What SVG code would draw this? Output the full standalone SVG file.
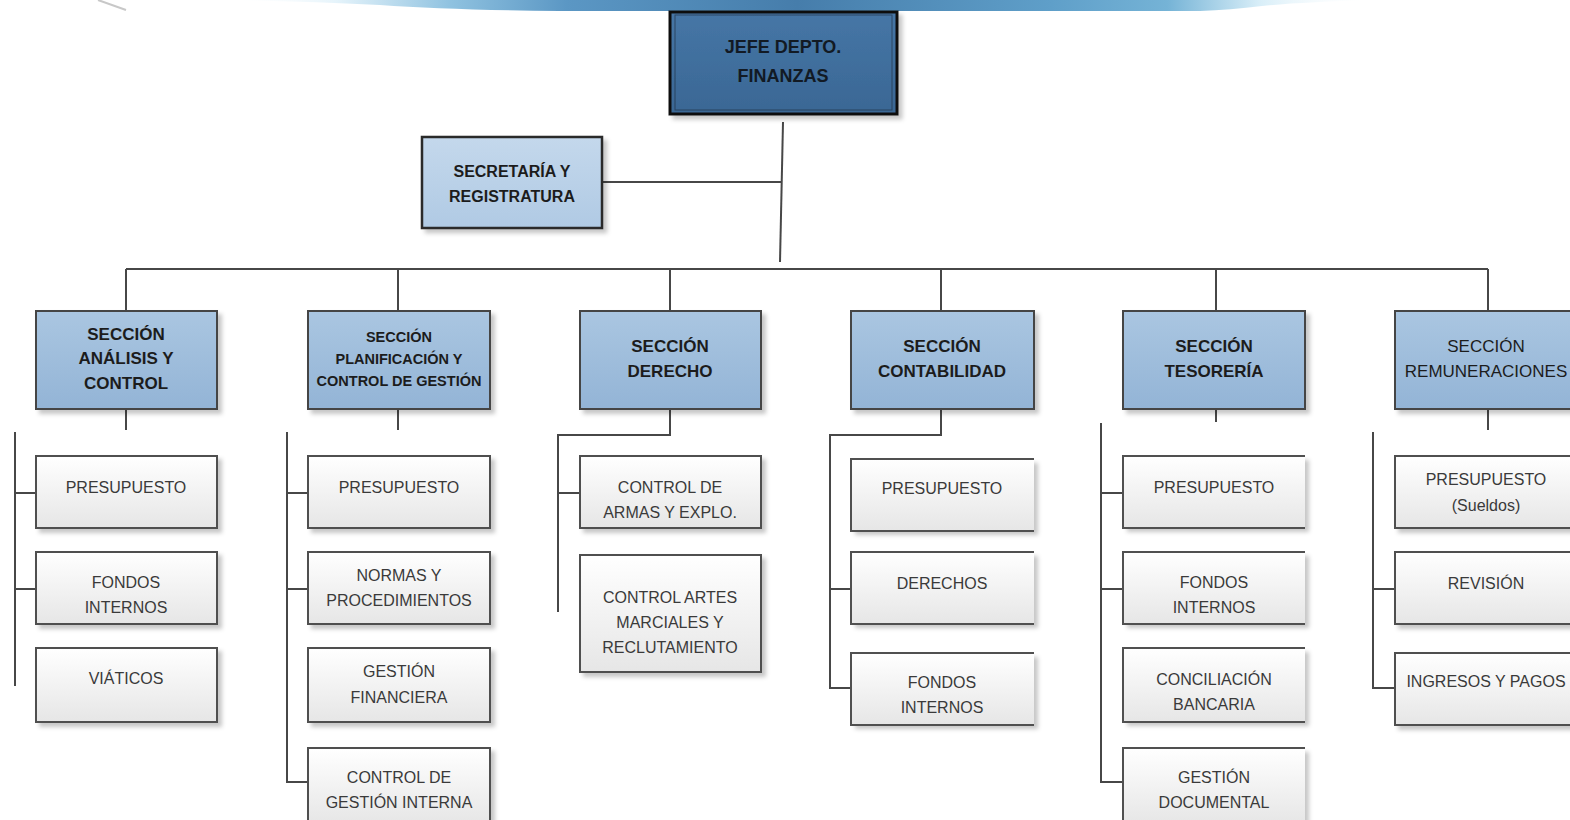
<svg xmlns="http://www.w3.org/2000/svg" width="1570" height="820" viewBox="0 0 1570 820">
<defs>
<linearGradient id="gBanner" gradientUnits="userSpaceOnUse" x1="220" y1="0" x2="1375" y2="0">
<stop offset="0" stop-color="#ffffff" stop-opacity="0"/>
<stop offset="0.1" stop-color="#e6f4fb"/>
<stop offset="0.2" stop-color="#8fc2e0"/>
<stop offset="0.3" stop-color="#5b97c4"/>
<stop offset="0.5" stop-color="#467dab"/>
<stop offset="0.72" stop-color="#5f9fc9"/>
<stop offset="0.82" stop-color="#75b3d6"/>
<stop offset="0.9" stop-color="#d8eef8"/>
<stop offset="1" stop-color="#ffffff" stop-opacity="0"/>
</linearGradient>
<linearGradient id="gJefe" x1="0" y1="0" x2="0" y2="1">
<stop offset="0" stop-color="#4676a6"/>
<stop offset="1" stop-color="#3a6794"/>
</linearGradient>
<linearGradient id="gSec" x1="0" y1="0" x2="0" y2="1">
<stop offset="0" stop-color="#aac6e1"/>
<stop offset="1" stop-color="#93b4d6"/>
</linearGradient>
<linearGradient id="gSecr" x1="0" y1="0" x2="0" y2="1">
<stop offset="0" stop-color="#c4d8ec"/>
<stop offset="1" stop-color="#b0cae4"/>
</linearGradient>
<linearGradient id="gChild" x1="0" y1="0" x2="0" y2="1">
<stop offset="0" stop-color="#ffffff"/>
<stop offset="1" stop-color="#e6e6e6"/>
</linearGradient>
<filter id="sh" x="-10%" y="-10%" width="130%" height="140%">
<feDropShadow dx="4" dy="4" stdDeviation="2" flood-color="#000" flood-opacity="0.22"/>
</filter>
</defs>
<style>
.sec rect{fill:url(#gSec);stroke:#454545;stroke-width:2;filter:url(#sh)}
.ch rect{fill:url(#gChild);stroke:#505050;stroke-width:2;filter:url(#sh)}
.op rect{fill:url(#gChild);stroke:none;filter:url(#sh)}
.op path{fill:none;stroke:#505050;stroke-width:2}
.st{font-family:"Liberation Sans",Arial,sans-serif;font-weight:bold;font-size:17px;fill:#1c1c1c;text-anchor:middle}
.ct{font-family:"Liberation Sans",Arial,sans-serif;font-size:16px;fill:#3a3a3a;text-anchor:middle}
#connectors path,#connectors line{fill:none;stroke:#474747;stroke-width:2}
</style>
<rect width="1570" height="820" fill="#ffffff"/>
<g id="banner">
<path d="M 220 0 H 1375 Q 1300 2 1262 6 Q 1230 10 1200 11 H 560 Q 450 10 380 5 Q 300 1 220 0 Z" fill="url(#gBanner)"/>
<line x1="98" y1="0" x2="126" y2="10" stroke="#c8c8c8" stroke-width="2"/>
</g>
<g id="connectors">
<line x1="783" y1="122" x2="780" y2="262"/>
<line x1="602" y1="182" x2="782" y2="182"/>
<line x1="126" y1="269" x2="1488" y2="269"/>
<line x1="126" y1="269" x2="126" y2="311"/>
<line x1="398" y1="269" x2="398" y2="311"/>
<line x1="670" y1="269" x2="670" y2="311"/>
<line x1="941" y1="269" x2="941" y2="311"/>
<line x1="1216" y1="269" x2="1216" y2="311"/>
<line x1="1488" y1="269" x2="1488" y2="311"/>
<line x1="126" y1="409" x2="126" y2="430"/>
<line x1="398" y1="409" x2="398" y2="430"/>
<path d="M 670 409 V 435 H 558 V 612"/>
<path d="M 941 409 V 435 H 830 V 688 H 851"/>
<line x1="1216" y1="409" x2="1216" y2="422"/>
<line x1="1488" y1="409" x2="1488" y2="430"/>
<line x1="15" y1="432" x2="15" y2="686"/>
<line x1="15" y1="493" x2="36" y2="493"/>
<line x1="15" y1="589" x2="36" y2="589"/>
<path d="M 287 432 V 782 H 308"/>
<line x1="287" y1="493" x2="308" y2="493"/>
<line x1="287" y1="589" x2="308" y2="589"/>
<line x1="558" y1="493" x2="580" y2="493"/>
<line x1="830" y1="589" x2="851" y2="589"/>
<path d="M 1101 423 V 782 H 1123"/>
<line x1="1101" y1="493" x2="1123" y2="493"/>
<line x1="1101" y1="589" x2="1123" y2="589"/>
<path d="M 1373 432 V 688 H 1395"/>
<line x1="1373" y1="589" x2="1395" y2="589"/>
</g>
<g id="jefe">
<rect x="670" y="12" width="227" height="102" fill="url(#gJefe)" stroke="#111" stroke-width="3" filter="url(#sh)"/>
<rect x="675" y="15" width="217" height="95" fill="none" stroke="#1a2a3a" stroke-width="1" opacity="0.6"/>
<text class="st" x="783" y="53" style="font-size:18px;fill:#121a24">JEFE DEPTO.</text>
<text class="st" x="783" y="82" style="font-size:18px;fill:#121a24">FINANZAS</text>
</g>
<g id="secretaria">
<rect x="422" y="137" width="180" height="91" fill="url(#gSecr)" stroke="#2a2a2a" stroke-width="2.5" filter="url(#sh)"/>
<text class="st" x="512" y="177" style="font-size:16px">SECRETARÍA Y</text>
<text class="st" x="512" y="202" style="font-size:16px">REGISTRATURA</text>
</g>
<g id="sec-analisis" class="sec">
<rect x="36" y="311" width="181" height="98"/>
<text class="st" x="126" y="340">SECCIÓN</text>
<text class="st" x="126" y="364">ANÁLISIS Y</text>
<text class="st" x="126" y="389">CONTROL</text>
</g>
<g id="sec-planificacion" class="sec">
<rect x="308" y="311" width="182" height="98"/>
<text class="st" x="399" y="342" style="font-size:14.5px">SECCIÓN</text>
<text class="st" x="399" y="364" style="font-size:14.5px">PLANIFICACIÓN Y</text>
<text class="st" x="399" y="386" style="font-size:14.5px">CONTROL DE GESTIÓN</text>
</g>
<g id="sec-derecho" class="sec">
<rect x="580" y="311" width="181" height="98"/>
<text class="st" x="670" y="352">SECCIÓN</text>
<text class="st" x="670" y="377">DERECHO</text>
</g>
<g id="sec-contabilidad" class="sec">
<rect x="851" y="311" width="183" height="98"/>
<text class="st" x="942" y="352">SECCIÓN</text>
<text class="st" x="942" y="377">CONTABILIDAD</text>
</g>
<g id="sec-tesoreria" class="sec">
<rect x="1123" y="311" width="182" height="98"/>
<text class="st" x="1214" y="352">SECCIÓN</text>
<text class="st" x="1214" y="377">TESORERÍA</text>
</g>
<g id="sec-remuneraciones" class="sec">
<rect x="1395" y="311" width="185" height="98"/>
<text class="st" x="1486" y="352" style="font-weight:normal">SECCIÓN</text>
<text class="st" x="1486" y="377" style="font-weight:normal">REMUNERACIONES</text>
</g>
<g id="an-presupuesto" class="ch"><rect x="36" y="456" width="181" height="72"/><text class="ct" x="126" y="493">PRESUPUESTO</text></g>
<g id="an-fondos" class="ch"><rect x="36" y="552" width="181" height="72"/><text class="ct" x="126" y="588">FONDOS</text><text class="ct" x="126" y="613">INTERNOS</text></g>
<g id="an-viaticos" class="ch"><rect x="36" y="648" width="181" height="74"/><text class="ct" x="126" y="684">VIÁTICOS</text></g>
<g id="pl-presupuesto" class="ch"><rect x="308" y="456" width="182" height="72"/><text class="ct" x="399" y="493">PRESUPUESTO</text></g>
<g id="pl-normas" class="ch"><rect x="308" y="552" width="182" height="72"/><text class="ct" x="399" y="581">NORMAS Y</text><text class="ct" x="399" y="606">PROCEDIMIENTOS</text></g>
<g id="pl-gestion" class="ch"><rect x="308" y="648" width="182" height="74"/><text class="ct" x="399" y="677">GESTIÓN</text><text class="ct" x="399" y="703">FINANCIERA</text></g>
<g id="pl-control" class="ch"><rect x="308" y="748" width="182" height="76"/><text class="ct" x="399" y="783">CONTROL DE</text><text class="ct" x="399" y="808">GESTIÓN INTERNA</text></g>
<g id="de-armas" class="ch"><rect x="580" y="456" width="181" height="72"/><text class="ct" x="670" y="493">CONTROL DE</text><text class="ct" x="670" y="518">ARMAS Y EXPLO.</text></g>
<g id="de-artes" class="ch"><rect x="580" y="555" width="181" height="117"/><text class="ct" x="670" y="603">CONTROL ARTES</text><text class="ct" x="670" y="628">MARCIALES Y</text><text class="ct" x="670" y="653">RECLUTAMIENTO</text></g>
<g id="co-presupuesto" class="op"><rect x="851" y="459" width="183" height="72"/><path d="M 1034 459 H 851 V 531 H 1034"/><text class="ct" x="942" y="494">PRESUPUESTO</text></g>
<g id="co-derechos" class="op"><rect x="851" y="552" width="183" height="72"/><path d="M 1034 552 H 851 V 624 H 1034"/><text class="ct" x="942" y="589">DERECHOS</text></g>
<g id="co-fondos" class="op"><rect x="851" y="653" width="183" height="72"/><path d="M 1034 653 H 851 V 725 H 1034"/><text class="ct" x="942" y="688">FONDOS</text><text class="ct" x="942" y="713">INTERNOS</text></g>
<g id="te-presupuesto" class="op"><rect x="1123" y="456" width="182" height="72"/><path d="M 1305 456 H 1123 V 528 H 1305"/><text class="ct" x="1214" y="493">PRESUPUESTO</text></g>
<g id="te-fondos" class="op"><rect x="1123" y="552" width="182" height="72"/><path d="M 1305 552 H 1123 V 624 H 1305"/><text class="ct" x="1214" y="588">FONDOS</text><text class="ct" x="1214" y="613">INTERNOS</text></g>
<g id="te-conciliacion" class="op"><rect x="1123" y="648" width="182" height="74"/><path d="M 1305 648 H 1123 V 722 H 1305"/><text class="ct" x="1214" y="685">CONCILIACIÓN</text><text class="ct" x="1214" y="710">BANCARIA</text></g>
<g id="te-gestion" class="op"><rect x="1123" y="748" width="182" height="76"/><path d="M 1305 748 H 1123 V 824"/><text class="ct" x="1214" y="783">GESTIÓN</text><text class="ct" x="1214" y="808">DOCUMENTAL</text></g>
<g id="re-presupuesto" class="ch"><rect x="1395" y="456" width="185" height="72"/><text class="ct" x="1486" y="485">PRESUPUESTO</text><text class="ct" x="1486" y="511">(Sueldos)</text></g>
<g id="re-revision" class="ch"><rect x="1395" y="552" width="185" height="72"/><text class="ct" x="1486" y="589">REVISIÓN</text></g>
<g id="re-ingresos" class="ch"><rect x="1395" y="653" width="185" height="72"/><text class="ct" x="1486" y="687">INGRESOS Y PAGOS</text></g>
</svg>
